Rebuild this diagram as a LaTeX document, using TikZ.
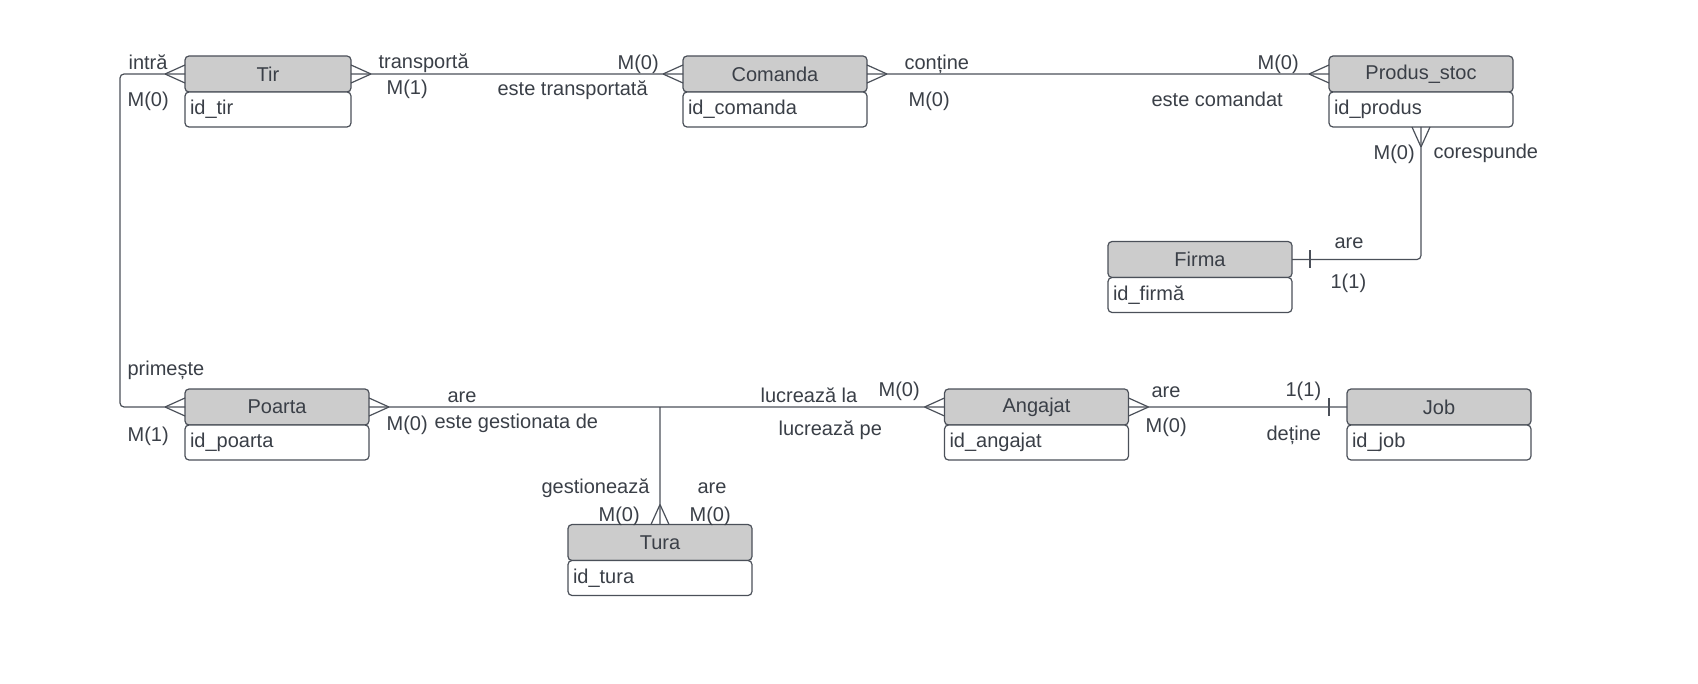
\documentclass[tikz,border=0pt]{standalone}
\usepackage{fontspec}
\setmainfont{Liberation Sans}
\usepackage{xcolor}
\usetikzlibrary{positioning}
\definecolor{ink}{HTML}{3A3F47}
\definecolor{hdr}{HTML}{CCCCCC}
\definecolor{wire}{HTML}{4B5059}

\begin{document}
\begin{tikzpicture}[x=0.5pt,y=-0.5pt,semithick,
  font=\fontsize{10}{12}\selectfont,text=ink,
  ent/.style={draw=wire,fill=hdr,rounded corners=2pt,minimum width=92pt,
    minimum height=18pt,inner sep=0pt,outer sep=0pt},
  att/.style={draw=wire,fill=white,rounded corners=2pt,minimum height=17.5pt,
    inner xsep=2.5pt,inner ysep=0pt,outer sep=0pt,text width=87pt,align=left},
  rel/.style={draw=wire,rounded corners=2pt},
  lbl/.style={anchor=base west,inner sep=0pt},
  crow/.pic={\draw[wire] (20,0) -- (0,9) (20,0) -- (0,-9);},
  one/.pic={\draw[wire] (18,-9) -- (18,9);}]
    \useasboundingbox (0,0) rectangle (1698,684);
    % entities
    \node[ent,minimum width=83pt] (tir) at (268,74) {Tir};
    \node[att,text width=78pt,below=0pt of tir] (tir-id) {id\_tir};
    \node[ent] (comanda) at (775,74) {Comanda};
    \node[att,below=0pt of comanda] (comanda-id) {id\_comanda};
    \node[ent] (produs) at (1421,74) {Produs\_stoc};
    \node[att,below=0pt of produs] (produs-id) {id\_produs};
    \node[ent] (firma) at (1200,259.5) {Firma};
    \node[att,below=0pt of firma] (firma-id) {id\_firmă};
    \node[ent] (poarta) at (277,407) {Poarta};
    \node[att,below=0pt of poarta] (poarta-id) {id\_poarta};
    \node[ent] (angajat) at (1036.5,407) {Angajat};
    \node[att,below=0pt of angajat] (angajat-id) {id\_angajat};
    \node[ent] (job) at (1439,407) {Job};
    \node[att,below=0pt of job] (job-id) {id\_job};
    \node[ent] (tura) at (660,542.5) {Tura};
    \node[att,below=0pt of tura] (tura-id) {id\_tura};
    % relationships
    \coordinate (j) at (tura.north |- poarta.east);
    \path[rel] (tir.east) -- (comanda.west)
    (comanda.east) -- (produs.west)
    (produs-id.south) |- (firma.east)
    (tir.west) -- ++(-65,0) |- (poarta.west)
    (poarta.east) -- (angajat.west)
    (j) -- (tura.north)
    (angajat.east) -- (job.west);
    \foreach \n/\r in {tir.west/180,tir.east/0,comanda.west/180,comanda.east/0,
      produs.west/180,produs-id.south/-90,poarta.west/180,poarta.east/0,
      angajat.west/180,angajat.east/0,tura.north/90}
      \pic[rotate=\r] at (\n) {crow};
    \pic at (firma.east) {one};
    \pic[rotate=180] at (job.west) {one};
    % labels
    \node[lbl] (l1) at (128,70) {intră};
    \node[lbl] (l2) at (127,107) {M(0)};
    \node[lbl] (l3) at (378,69) {transportă};
    \node[lbl] (l4) at (386,95) {M(1)};
    \node[lbl] (l5) at (617,70) {M(0)};
    \node[lbl] (l6) at (497,96) {este transportată};
    \node[lbl] (l7) at (904,70) {conține};
    \node[lbl] (l8) at (908,107) {M(0)};
    \node[lbl] (l9) at (1257,70) {M(0)};
    \node[lbl] (l10) at (1151,107) {este comandat};
    \node[lbl] (l11) at (1373,160) {M(0)};
    \node[lbl] (l12) at (1433,159) {corespunde};
    \node[lbl] (l13) at (1334,249) {are};
    \node[lbl] (l14) at (1330,289) {1(1)};
    \node[lbl] (l15) at (127,376) {primește};
    \node[lbl] (l16) at (127,441) {M(1)};
    \node[lbl] (l17) at (447,402) {are};
    \node[lbl] (l18) at (386,430) {M(0)};
    \node[lbl] (l19) at (434,429) {este gestionata de};
    \node[lbl] (l20) at (541,493) {gestionează};
    \node[lbl] (l21) at (697,493) {are};
    \node[lbl] (l22) at (598,521) {M(0)};
    \node[lbl] (l23) at (689,521) {M(0)};
    \node[lbl] (l24) at (760,402) {lucrează la};
    \node[lbl] (l25) at (878,396) {M(0)};
    \node[lbl] (l26) at (778,436) {lucrează pe};
    \node[lbl] (l27) at (1151,397) {are};
    \node[lbl] (l28) at (1145,432) {M(0)};
    \node[lbl] (l29) at (1285,396) {1(1)};
    \node[lbl] (l30) at (1266,440) {deține};
\end{tikzpicture}
\end{document}
